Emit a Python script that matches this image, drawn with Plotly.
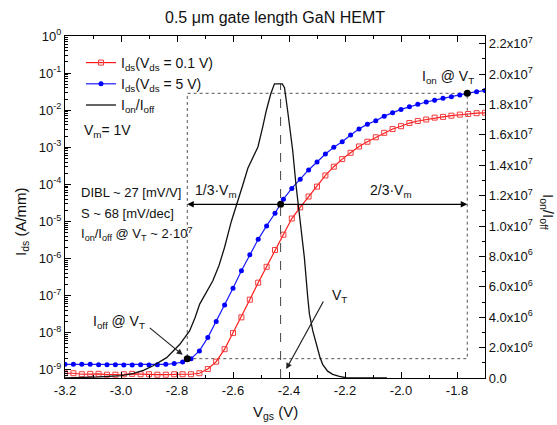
import math
import plotly.graph_objects as go

# Gate sweep (V)
V_GS = [-3.20, -3.17, -3.14, -3.11, -3.08, -3.05, -3.02, -2.99, -2.96, -2.93,
        -2.90, -2.87, -2.84, -2.81, -2.78, -2.75, -2.72, -2.69, -2.66, -2.63,
        -2.60, -2.57, -2.54, -2.51, -2.48, -2.45, -2.42, -2.39, -2.36, -2.33,
        -2.30, -2.27, -2.24, -2.21, -2.18, -2.15, -2.12, -2.09, -2.06, -2.03,
        -2.00, -1.97, -1.94, -1.91, -1.88, -1.85, -1.82, -1.79, -1.76, -1.73,
        -1.70]

# Drain current at Vds = 0.1 V (A/mm)
I_DS_01V = [8.1e-10, 8.1e-10, 7.6e-10, 7.8e-10, 7.8e-10, 7.4e-10, 7.4e-10, 7.6e-10,
            7.8e-10, 7.6e-10, 7.6e-10, 7.4e-10, 7.4e-10, 7.6e-10, 7.6e-10, 7.6e-10,
            8.1e-10, 1.05e-9, 1.66e-9, 3.6e-9, 9.8e-9, 2.6e-8, 7.8e-8, 2.24e-7,
            6.0e-7, 1.7e-6, 4.4e-6, 1.2e-5, 2.4e-5, 4.7e-5, 8.7e-5, 1.74e-4,
            3.0e-4, 4.8e-4, 7.1e-4, 1.05e-3, 1.41e-3, 1.86e-3, 2.45e-3, 3.1e-3,
            3.7e-3, 4.5e-3, 5.1e-3, 5.6e-3, 6.3e-3, 6.6e-3, 7.1e-3, 7.6e-3,
            7.9e-3, 8.3e-3, 8.5e-3]

# Drain current at Vds = 5 V (A/mm)
I_DS_5V = [1.41e-9, 1.41e-9, 1.41e-9, 1.41e-9, 1.38e-9, 1.38e-9, 1.38e-9, 1.35e-9,
           1.35e-9, 1.38e-9, 1.35e-9, 1.38e-9, 1.41e-9, 1.48e-9, 1.62e-9, 2.0e-9,
           3.24e-9, 7.4e-9, 2.0e-8, 5.6e-8, 1.58e-7, 4.7e-7, 1.26e-6, 3.3e-6,
           7.6e-6, 1.66e-5, 4.0e-5, 7.8e-5, 1.38e-4, 2.45e-4, 4.0e-4, 6.6e-4,
           1.0e-3, 1.41e-3, 2.14e-3, 3.1e-3, 4.2e-3, 5.2e-3, 6.9e-3, 8.5e-3,
           1.05e-2, 1.23e-2, 1.45e-2, 1.66e-2, 1.86e-2, 2.09e-2, 2.29e-2, 2.57e-2,
           2.88e-2, 3.16e-2, 3.39e-2]

# Ion/Ioff ratio versus threshold position
V_RATIO = [-3.20, -3.10, -3.075, -3.00, -2.958, -2.92, -2.887, -2.837, -2.79, -2.755,
           -2.735, -2.719, -2.695, -2.672, -2.65, -2.63, -2.606, -2.583, -2.565, -2.547,
           -2.53, -2.511, -2.494, -2.481, -2.465, -2.452, -2.424, -2.416, -2.405, -2.387,
           -2.375, -2.363, -2.345, -2.333, -2.327, -2.315, -2.303, -2.29, -2.28, -2.262,
           -2.244, -2.22, -2.196, -2.15, -2.05]
ON_OFF = [0.0, 0.03e6, 0.07e6, 0.15e6, 0.28e6, 0.5e6, 0.79e6, 1.34e6, 2.22e6, 3.1e6,
          4.0e6, 4.86e6, 5.7e6, 6.4e6, 7.4e6, 8.6e6, 10.3e6, 11.6e6, 12.7e6, 13.8e6,
          14.5e6, 15.2e6, 16.5e6, 17.6e6, 18.7e6, 19.35e6, 19.35e6, 19.1e6, 17.6e6, 15.0e6,
          12.7e6, 10.9e6, 7.9e6, 5.3e6, 4.2e6, 3.1e6, 2.2e6, 1.4e6, 0.9e6, 0.45e6,
          0.24e6, 0.1e6, 0.02e6, 0.0, 0.0]

# Extraction parameters
V_T = -2.43
V_M = 1.0
I_OFF = 2.0e-9
I_VT = 2.9e-5
I_ON = 2.85e-2

X_TICKS = [-3.2, -3.0, -2.8, -2.6, -2.4, -2.2, -2.0, -1.8]
X_TICK_TEXT = ["-3.2", "-3.0", "-2.8", "-2.6", "-2.4", "-2.2", "-2.0", "-1.8"]
Y_TICKS = [1e-9, 1e-8, 1e-7, 1e-6, 1e-5, 1e-4, 1e-3, 1e-2, 1e-1, 1e0]
Y_TICK_TEXT = ["10<sup>-9</sup>", "10<sup>-8</sup>", "10<sup>-7</sup>", "10<sup>-6</sup>",
               "10<sup>-5</sup>", "10<sup>-4</sup>", "10<sup>-3</sup>", "10<sup>-2</sup>",
               "10<sup>-1</sup>", "10<sup>0</sup>"]
Y2_TICKS = [0, 2e6, 4e6, 6e6, 8e6, 1.0e7, 1.2e7, 1.4e7, 1.6e7, 1.8e7, 2.0e7, 2.2e7]
Y2_TICK_TEXT = ["0.0", "2.0x10<sup>6</sup>", "4.0x10<sup>6</sup>", "6.0x10<sup>6</sup>",
                "8.0x10<sup>6</sup>", "1.0x10<sup>7</sup>", "1.2x10<sup>7</sup>",
                "1.4x10<sup>7</sup>", "1.6x10<sup>7</sup>", "1.8x10<sup>7</sup>",
                "2.0x10<sup>7</sup>", "2.2x10<sup>7</sup>"]

W, H = 557, 425
ML, MR, MT, MB = 65, 72, 36, 47
FONT = "Liberation Sans, Arial, sans-serif"


def at(px, py):
    """Page pixel position -> paper fraction."""
    return (px - ML) / (W - ML - MR), (H - MB - py) / (H - MT - MB)


v_off = V_T - V_M / 3
v_on = V_T + 2 * V_M / 3

fig = go.Figure()

# dotted guide box spanning Ioff..Ion
fig.add_trace(go.Scatter(
    x=[v_off, v_on, v_on, v_off, v_off], y=[I_OFF, I_OFF, I_ON, I_ON, I_OFF],
    mode="lines", line=dict(color="#555555", width=1, dash="dot"),
    showlegend=False, hoverinfo="skip"))

# dashed marker of V_T
fig.add_trace(go.Scatter(
    x=[V_T, V_T], y=[0, max(ON_OFF)], yaxis="y2", mode="lines",
    line=dict(color="#444444", width=1, dash="dash"),
    showlegend=False, hoverinfo="skip"))

fig.add_trace(go.Scatter(
    x=V_GS, y=I_DS_01V, mode="lines+markers",
    name="I<sub>ds</sub>(V<sub>ds</sub> = 0.1 V)",
    line=dict(color="#ff1a1a", width=1.2),
    marker=dict(symbol="square-open", size=5, color="#f03c3c", line=dict(width=1))))

fig.add_trace(go.Scatter(
    x=V_GS, y=I_DS_5V, mode="lines+markers",
    name="I<sub>ds</sub>(V<sub>ds</sub> = 5 V)",
    line=dict(color="#1a1aff", width=1.2),
    marker=dict(symbol="circle", size=5, color="#0000ff")))

fig.add_trace(go.Scatter(
    x=V_RATIO, y=ON_OFF, yaxis="y2", mode="lines",
    name="I<sub>on</sub>/I<sub>off</sub>",
    line=dict(color="#111111", width=1.3)))

# extraction points
fig.add_trace(go.Scatter(
    x=[v_off, V_T, v_on], y=[I_OFF, I_VT, I_ON], mode="markers",
    marker=dict(color="black", size=7), showlegend=False, hoverinfo="skip"))

ann = []
ly = math.log10(I_VT)
for xt in (v_off, v_on):
    ann.append(dict(x=xt, y=ly, ax=V_T, ay=ly, xref="x", yref="y", axref="x", ayref="y",
                    text="", showarrow=True, arrowhead=2, arrowsize=1, arrowwidth=1.3,
                    arrowcolor="black", standoff=0))
ann.append(dict(x=v_off, y=math.log10(I_OFF), xref="x", yref="y", ax=-39, ay=-32,
                text="", showarrow=True, arrowhead=2, arrowsize=1, arrowwidth=1.2,
                arrowcolor="#222222", standoff=6))
ann.append(dict(x=-2.41, y=math.log10(1.05e-9), xref="x", yref="y", ax=38, ay=-69,
                text="", showarrow=True, arrowhead=2, arrowsize=1, arrowwidth=1.2,
                arrowcolor="#222222", standoff=0))


def label(px, py, text, size=13, xanchor="left", angle=0):
    x, y = at(px, py)
    ann.append(dict(x=x, y=y, xref="paper", yref="paper", text=text, showarrow=False,
                    xanchor=xanchor, yanchor="middle", textangle=angle,
                    font=dict(family=FONT, size=size, color="#111111")))


label(82, 131, "V<sub>m</sub>= 1V", 14)
label(79, 192, "DIBL ~ 27 [mV/V]")
label(79, 213, "S ~ 68 [mV/dec]")
label(79, 234, "I<sub>on</sub>/I<sub>off</sub> @ V<sub>T</sub> ~ 2·10<sup>7</sup>")
label(193, 191, "1/3·V<sub>m</sub>", 14)
label(368, 191, "2/3·V<sub>m</sub>", 14)
label(420, 77, "I<sub>on</sub> @ V<sub>T</sub>", 14)
label(330, 296, "V<sub>T</sub>", 14)
label(91, 322, "I<sub>off</sub> @ V<sub>T</sub>", 14)
label(275, 412, "V<sub>gs</sub> (V)", 15, xanchor="center")
label(21, 222, "I<sub>ds</sub> (A/mm)", 15, xanchor="center", angle=-90)
label(548, 212, "I<sub>on</sub>/I<sub>off</sub>", 15, xanchor="center", angle=90)

minor_log = [m * 10 ** e for e in range(-10, 0) for m in range(2, 10)]

axis_common = dict(showline=True, linecolor="black", linewidth=1.3, ticks="inside",
                   tickcolor="black", showgrid=False, zeroline=False,
                   tickfont=dict(family=FONT, size=13, color="#111111"))

fig.update_layout(
    width=W, height=H, margin=dict(l=ML, r=MR, t=MT, b=MB),
    paper_bgcolor="white", plot_bgcolor="white", hovermode=False,
    title=dict(text="0.5 μm gate length GaN HEMT", x=0.5, xref="paper",
               y=1 - 17 / H, yref="container", yanchor="middle", xanchor="center",
               font=dict(family=FONT, size=16, color="#111111")),
    xaxis=dict(range=[-3.2, -1.7], tickmode="array", tickvals=X_TICKS,
               ticktext=X_TICK_TEXT, ticklen=6, mirror="ticks",
               minor=dict(dtick=0.1, tick0=-3.2, ticks="inside", ticklen=3,
                          tickcolor="black"),
               **axis_common),
    yaxis=dict(type="log", range=[-9.22, 0], tickmode="array", tickvals=Y_TICKS,
               ticktext=Y_TICK_TEXT, ticklen=6,
               minor=dict(tickmode="array", tickvals=minor_log, ticks="inside",
                          ticklen=3, tickcolor="black"),
               **axis_common),
    yaxis2=dict(overlaying="y", side="right", range=[0, 2.25e7], tickmode="array",
                tickvals=Y2_TICKS, ticktext=Y2_TICK_TEXT, ticklen=6,
                minor=dict(dtick=1e6, ticks="inside", ticklen=3, tickcolor="black"),
                **axis_common),
    legend=dict(x=at(81, 0)[0], y=at(0, 47)[1], xanchor="left", yanchor="top",
                bgcolor="rgba(0,0,0,0)", font=dict(family=FONT, size=14, color="#111111"),
                tracegroupgap=2),
    annotations=ann,
    showlegend=True,
)

fig.write_html("out.html")
